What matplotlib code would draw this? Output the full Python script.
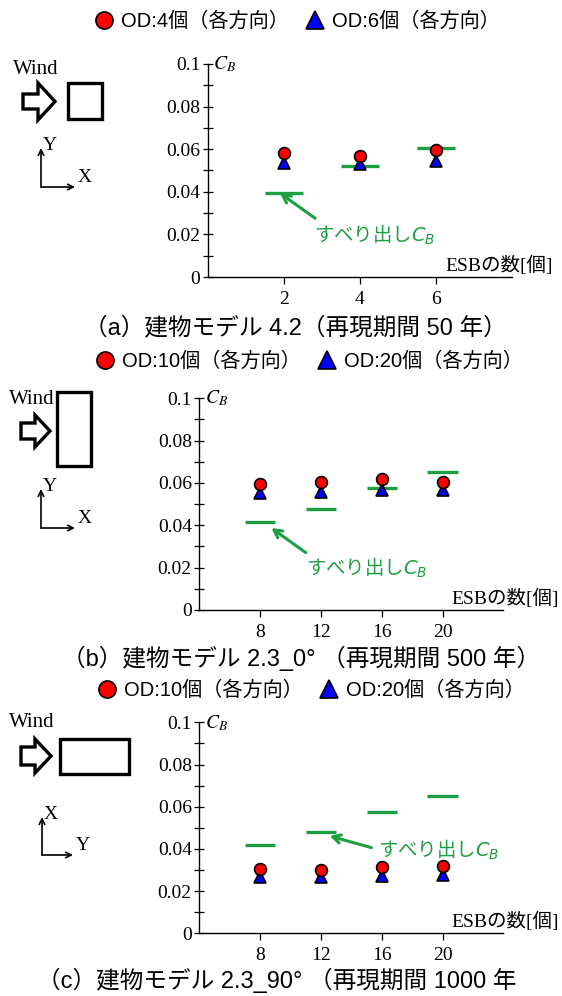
import matplotlib.pyplot as plt
from matplotlib.patches import Polygon, Rectangle

plt.rcParams['font.family'] = ['Noto Sans CJK JP', 'DejaVu Sans']
SERIF = ['Liberation Serif', 'Noto Sans CJK JP']
SANS = ['Liberation Sans', 'Noto Sans CJK JP']
GREEN = '#1c9e42'

# ---- data ----
esb_a = [2, 4, 6]
od4_a = [0.0582, 0.0570, 0.0596]
od6_a = [0.0534, 0.0529, 0.0545]
slip_a = [0.0396, 0.0521, 0.0606]

esb_bc = [8, 12, 16, 20]
od10_b = [0.0594, 0.0606, 0.0617, 0.0606]
od20_b = [0.0554, 0.0559, 0.0567, 0.0567]
slip_b = [0.0416, 0.0479, 0.0576, 0.0650]

od10_c = [0.0305, 0.0300, 0.0313, 0.0317]
od20_c = [0.0268, 0.0268, 0.0273, 0.0278]
slip_c = [0.0417, 0.0480, 0.0576, 0.0651]

yticks = [0, 0.02, 0.04, 0.06, 0.08, 0.1]
ytick_labels = ['0', '0.02', '0.04', '0.06', '0.08', '0.1']

W, H = 562, 996
fig = plt.figure(figsize=(W / 100, H / 100), dpi=100)


def frac(x, y):
    return x / W, 1 - y / H


panels = [
    dict(box=(207.9, 64, 512, 277), xlim=(0, 8), x=esb_a, red=od4_a, blue=od6_a,
         slip=slip_a, half=0.5, labels=['OD:4個（各方向）', 'OD:6個（各方向）'],
         leg=(297, 21), cap='（a）建物モデル 4.2（再現期間 50 年）', cap_xy=(84, 328),
         tip=(1.9, 0.0393), tail=(2.82, 0.0276), txt=(2.8, 0.0197), esb_x=0.78),
    dict(box=(199.4, 398.3, 503.3, 610), xlim=(4, 24), x=esb_bc, red=od10_b, blue=od20_b,
         slip=slip_b, half=1.0, labels=['OD:10個（各方向）', 'OD:20個（各方向）'],
         leg=(309, 361), cap='（b）建物モデル 2.3_0° （再現期間 500 年）', cap_xy=(62, 658),
         tip=(8.74, 0.0387), tail=(11.0, 0.0271), txt=(11.0, 0.0197), esb_x=0.83),
    dict(box=(199.4, 722.3, 503.3, 933.3), xlim=(4, 24), x=esb_bc, red=od10_c, blue=od20_c,
         slip=slip_c, half=1.0, labels=['OD:10個（各方向）', 'OD:20個（各方向）'],
         leg=(311, 690), cap='（c）建物モデル 2.3_90° （再現期間 1000 年', cap_xy=(37, 980),
         tip=(12.58, 0.0461), tail=(15.32, 0.0406), txt=(15.75, 0.0395), esb_x=0.83),
]

for p in panels:
    x0, y0, x1, y1 = p['box']
    ax = fig.add_axes([x0 / W, 1 - y1 / H, (x1 - x0) / W, (y1 - y0) / H])
    ax.set_xlim(*p['xlim'])
    ax.set_ylim(0, 0.1)
    for s in ['top', 'right']:
        ax.spines[s].set_visible(False)
    ax.spines['left'].set_linewidth(1.0)
    ax.spines['bottom'].set_linewidth(1.0)
    ax.set_yticks(yticks)
    ax.set_yticklabels(ytick_labels, family=SERIF, fontsize=14)
    ax.set_yticks([0.01, 0.03, 0.05, 0.07, 0.09], minor=True)
    ax.set_xticks(p['x'])
    ax.set_xticklabels([str(v) for v in p['x']], family=SERIF, fontsize=14)
    ax.tick_params(axis='y', which='both', direction='inout', length=7, width=0.9, pad=2)
    ax.tick_params(axis='x', direction='out', length=5, width=0.9, pad=5)
    ax.patch.set_alpha(0)

    ax.hlines(p['slip'], [v - p['half'] for v in p['x']], [v + p['half'] for v in p['x']],
              color=GREEN, lw=2.4, zorder=2)
    h_blue, = ax.plot(p['x'], p['blue'], '^', ms=8.5, mfc='#0000ff', mec='black', mew=1.2,
                      zorder=3, clip_on=False)
    h_red, = ax.plot(p['x'], p['red'], 'o', ms=8.5, mfc='#ff0000', mec='black', mew=1.2,
                     zorder=4, clip_on=False)

    ax.annotate('', xy=p['tip'], xytext=p['tail'],
                arrowprops=dict(arrowstyle='->,head_length=0.55,head_width=0.3',
                                color=GREEN, lw=2.2, shrinkA=0, shrinkB=0))
    ax.text(p['txt'][0], p['txt'][1], 'すべり出し$C_B$', color=GREEN, fontsize=14,
            va='center', ha='left')

    ax.annotate('$C_B$', xy=(0, 0.1), xycoords=('axes fraction', 'data'),
                xytext=(4, 0), textcoords='offset points', fontsize=14,
                math_fontfamily='stix', va='center', ha='left')
    ax.text(p['esb_x'], 0.01, 'ESBの数[個]', transform=ax.transAxes,
            family=SERIF, fontsize=14, va='bottom', ha='left', clip_on=False)

    fig.legend([h_red, h_blue], p['labels'], loc='center',
               bbox_to_anchor=frac(*p['leg']), ncol=2, frameon=False,
               prop=dict(family=SANS, size=14.5),
               markerscale=1.45, handletextpad=0.35, columnspacing=0.8,
               handlelength=1.0, borderaxespad=0, borderpad=0)
    fig.text(*frac(*p['cap_xy']), p['cap'], family=SANS, fontsize=17,
             ha='left', va='center')

# ---- building sketches (pixel coordinates) ----
deco = fig.add_axes([0, 0, 1, 1], zorder=-1)
deco.set_xlim(0, W)
deco.set_ylim(H, 0)
deco.axis('off')

sketches = [
    dict(wind=(35.5, 69), arr=(23, 55, 83, 120, 94, 109, 38), rect=(68, 83, 34, 36),
         org=(41, 187), up=39, right=34, up_lbl='Y', right_lbl='X'),
    dict(wind=(32, 399), arr=(21, 50, 415, 447, 423, 439, 35), rect=(57, 392, 34, 74),
         org=(41, 528), up=39, right=34, up_lbl='Y', right_lbl='X'),
    dict(wind=(32, 722), arr=(21, 51, 739, 773, 747, 765, 35), rect=(60, 739, 69, 35),
         org=(42, 855), up=38, right=31, up_lbl='X', right_lbl='Y'),
]
for s in sketches:
    deco.text(*s['wind'], 'Wind', family=SERIF, fontsize=15, ha='center', va='center')
    xa, xt, ytop, ybot, ys0, ys1, xb = s['arr']
    ymid = (ytop + ybot) / 2
    deco.add_patch(Polygon([(xa, ys0), (xb, ys0), (xb, ytop), (xt, ymid), (xb, ybot),
                            (xb, ys1), (xa, ys1)], closed=True, fill=False,
                           ec='black', lw=2.4, joinstyle='miter'))
    rx, ry, rw, rh = s['rect']
    deco.add_patch(Rectangle((rx, ry), rw, rh, fill=False, ec='black', lw=2.4))
    ox, oy = s['org']
    deco.annotate('', xy=(ox, oy - s['up']), xytext=(ox, oy),
                  arrowprops=dict(arrowstyle='->,head_length=0.4,head_width=0.2',
                                  lw=1.2, color='black', shrinkA=0, shrinkB=0))
    deco.annotate('', xy=(ox + s['right'], oy), xytext=(ox, oy),
                  arrowprops=dict(arrowstyle='->,head_length=0.4,head_width=0.2',
                                  lw=1.2, color='black', shrinkA=0, shrinkB=0))
    deco.text(ox + 9, oy - s['up'] - 3, s['up_lbl'], family=SERIF, fontsize=14,
              ha='center', va='center')
    deco.text(ox + s['right'] + 10, oy - 10, s['right_lbl'], family=SERIF, fontsize=14,
              ha='center', va='center')

fig.savefig('out.png', dpi=100)
